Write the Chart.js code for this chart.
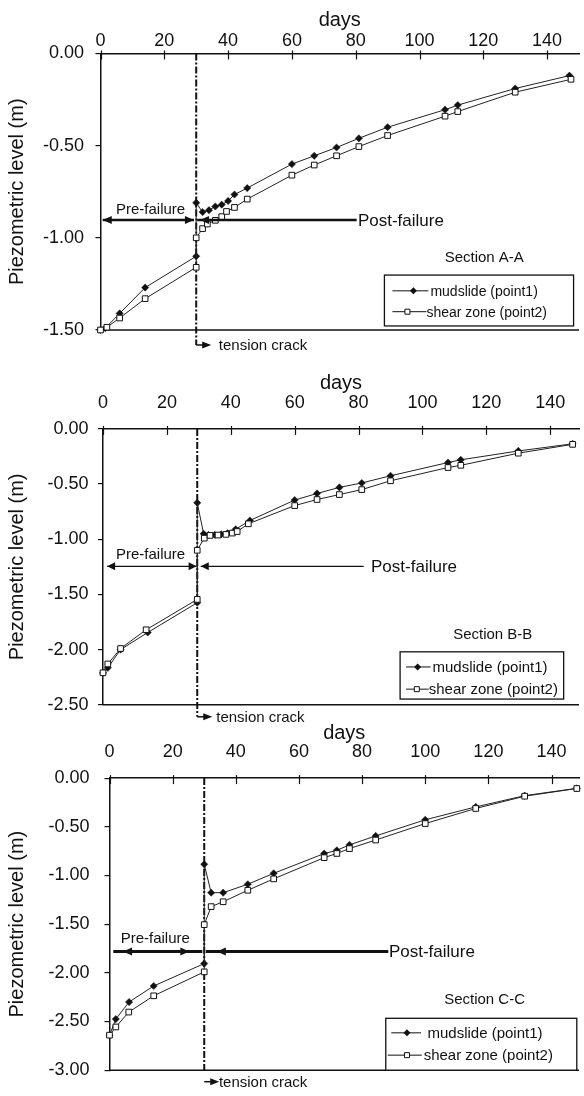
<!DOCTYPE html>
<html>
<head>
<meta charset="utf-8">
<script src="https://cdn.jsdelivr.net/npm/chart.js@4.4.1/dist/chart.umd.min.js"></script>
<style>
  html, body { margin: 0; padding: 0; background: #fff; }
  body { width: 584px; height: 1096px; position: relative; overflow: hidden; }
  .panel { position: absolute; left: 0; width: 584px; }
  .panel canvas { display: block; }
</style>
</head>
<body>
<div class="panel" style="top:0;height:360px"><canvas id="chartA"></canvas></div>
<div class="panel" style="top:350px;height:375px"><canvas id="chartB"></canvas></div>
<div class="panel" style="top:712px;height:384px"><canvas id="chartC"></canvas></div>
<script>
// axis ticks
const tickDays = [0, 20, 40, 60, 80, 100, 120, 140];
const levelTicksA = [0, -0.5, -1.0, -1.5];
const levelTicksB = [0, -0.5, -1.0, -1.5, -2.0, -2.5];
const levelTicksC = [0, -0.5, -1.0, -1.5, -2.0, -2.5, -3.0];

// Section A-A
const mudDaysA = [0, 1.5, 6, 14, 30, 30, 32, 34, 36, 38, 40, 42, 46, 60, 67, 74, 81, 90, 108, 112, 130, 147];
const mudLevelsA = [-1.50, -1.49, -1.41, -1.27, -1.10, -0.81, -0.86, -0.85, -0.83, -0.82, -0.80, -0.765, -0.73, -0.60, -0.555, -0.51, -0.46, -0.40, -0.305, -0.28, -0.19, -0.12];
const shearDaysA = [0, 2, 6, 14, 30, 30, 32, 33.5, 36, 38, 39.5, 42, 46, 60, 67, 74, 81, 90, 108, 112, 130, 147.5];
const shearLevelsA = [-1.50, -1.485, -1.435, -1.33, -1.16, -1.00, -0.95, -0.925, -0.905, -0.885, -0.857, -0.835, -0.79, -0.66, -0.605, -0.555, -0.505, -0.445, -0.34, -0.315, -0.21, -0.14];

// Section B-B
const mudDaysB = [0, 1.5, 5.5, 14, 29.5, 29.5, 31.5, 33, 35, 37, 39, 41.5, 46, 60, 67, 74, 81, 90, 108, 112, 130, 147];
const mudLevelsB = [-2.21, -2.165, -2.00, -1.845, -1.575, -0.67, -0.95, -0.96, -0.96, -0.955, -0.945, -0.91, -0.83, -0.645, -0.585, -0.53, -0.49, -0.425, -0.305, -0.28, -0.20, -0.135];
const shearDaysB = [0, 1.5, 5.5, 13.5, 29.5, 29.5, 31.7, 33.5, 36, 38.5, 40.5, 42, 45.5, 60, 67, 74, 81, 90, 108, 112, 130, 147];
const shearLevelsB = [-2.21, -2.13, -1.99, -1.82, -1.545, -1.10, -0.99, -0.965, -0.962, -0.956, -0.944, -0.93, -0.86, -0.695, -0.64, -0.595, -0.55, -0.47, -0.35, -0.33, -0.22, -0.14];

// Section C-C
const mudDaysC = [0, 2, 6.2, 14, 30, 30, 32.2, 36, 43.8, 52, 68, 72, 76, 84.3, 100, 116, 131.5, 148];
const mudLevelsC = [-2.64, -2.475, -2.30, -2.135, -1.905, -0.885, -1.177, -1.177, -1.09, -0.978, -0.775, -0.742, -0.686, -0.594, -0.428, -0.296, -0.18, -0.105];
const shearDaysC = [0, 2, 6.1, 14, 30, 30, 32.2, 36, 43.8, 52, 68, 72, 76, 84.3, 100, 116, 131.5, 148];
const shearLevelsC = [-2.64, -2.556, -2.403, -2.236, -1.99, -1.505, -1.32, -1.27, -1.152, -1.035, -0.817, -0.774, -0.724, -0.636, -0.467, -0.312, -0.186, -0.107];

const INK = '#111';
const FONT = "'Liberation Sans', Arial, Helvetica, sans-serif";
Chart.defaults.font.family = FONT;
Chart.defaults.color = INK;

// annotation layout per panel (arrows, labels, legend box), in data units
const decor = {
  chartA: {
    crackDay: 30, crackMode: 'elbow', crackDrop: 15, crackTextGap: 22.6,
    arrowLevel: -0.903, arrowWidth: 2.5, headLen: 9, headHalf: 4,
    arrowSpans: [[0.7, 29.3], [30.3, 80.3]], arrowHeads: [[0.7, -1], [29.3, 1], [31.2, -1]],
    texts: [
      { day: 15.7, level: -0.845, text: 'Pre-failure', size: 15, align: 'center' },
      { day: 80.7, level: -0.903, text: 'Post-failure', size: 17, align: 'left' },
      { day: 120.3, level: -1.103, text: 'Section A-A', size: 15, align: 'center' }
    ],
    legend: { days: [89, 148.3], levels: [-1.202, -1.478], size: 14, rows: [0.31, 0.72],
      mud: { line: [8, 44], marker: 29, text: 46 }, shear: { line: [8, 42], marker: 23, text: 42 } }
  },
  chartB: {
    crackDay: 29.5, crackMode: 'elbow', crackDrop: 12, crackTextGap: 19,
    arrowLevel: -1.245, arrowWidth: 1.2, headLen: 8, headHalf: 4,
    arrowSpans: [[1.3, 29.3], [30.6, 81.6]], arrowHeads: [[1.3, -1], [29.3, 1], [30.6, -1]],
    texts: [
      { day: 14.9, level: -1.132, text: 'Pre-failure', size: 15, align: 'center' },
      { day: 83.9, level: -1.245, text: 'Post-failure', size: 17, align: 'left' },
      { day: 122, level: -1.858, text: 'Section B-B', size: 15, align: 'center' }
    ],
    legend: { days: [93, 144.2], levels: [-2.02, -2.448], size: 15, rows: [0.32, 0.79],
      mud: { line: [6, 30.5], marker: 17.5, text: 32.4 }, shear: { line: [6, 28.6], marker: 16.7, text: 28.6 } }
  },
  chartC: {
    crackDay: 30, crackMode: 'arrow', crackDrop: 11.5, crackTextGap: 14.7,
    arrowLevel: -1.78, arrowWidth: 3, headLen: 9, headHalf: 4,
    arrowSpans: [[1.2, 29.4], [30.5, 88.3]], arrowHeads: [[4.3, -1], [25.3, 1], [34, -1]],
    texts: [
      { day: 14.5, level: -1.637, text: 'Pre-failure', size: 15, align: 'center' },
      { day: 88.5, level: -1.776, text: 'Post-failure', size: 17, align: 'left' },
      { day: 118.8, level: -2.268, text: 'Section C-C', size: 15, align: 'center' }
    ],
    legend: { days: [87.5, 148], levels: [-2.467, -3.0], size: 15, rows: [0.28, 0.71],
      mud: { line: [5.5, 35.3], marker: 21.2, text: 41.7 }, shear: { line: [2, 36], marker: 21.2, text: 37.9 } }
  }
};

function points(days, levels) {
  return days.map((d, i) => ({ x: d, y: levels[i] }));
}

function seg(ctx, x1, y1, x2, y2) {
  ctx.beginPath(); ctx.moveTo(x1, y1); ctx.lineTo(x2, y2); ctx.stroke();
}

function head(ctx, px, py, dir, len, half) {
  ctx.beginPath();
  ctx.moveTo(px, py);
  ctx.lineTo(px - dir * len, py - half);
  ctx.lineTo(px - dir * len, py + half);
  ctx.closePath();
  ctx.fill();
}

function marker(ctx, kind, px, py) {
  ctx.beginPath();
  if (kind === 'diamond') {
    ctx.moveTo(px - 3.5, py); ctx.lineTo(px, py - 3.5); ctx.lineTo(px + 3.5, py); ctx.lineTo(px, py + 3.5);
    ctx.closePath(); ctx.fill();
  } else {
    ctx.rect(px - 2.5, py - 2.5, 5, 5);
    ctx.fillStyle = '#fff'; ctx.fill();
    ctx.lineWidth = 1; ctx.stroke();
    ctx.fillStyle = INK;
  }
}

const sectionDecor = {
  id: 'sectionDecor',
  beforeDatasetsDraw(chart) {
    const o = decor[chart.canvas.id];
    const { ctx, chartArea: a, scales: { x } } = chart;
    ctx.save();
    ctx.strokeStyle = INK;
    ctx.lineWidth = 1.5;
    seg(ctx, a.left, a.bottom, a.right, a.bottom);
    // tick marks crossing the top axis
    ctx.lineWidth = 1.2;
    tickDays.forEach(d => {
      const px = Math.round(x.getPixelForValue(d)) + 0.5;
      seg(ctx, px, a.top - 3, px, a.top + 6);
    });
    // tension crack line
    const cx = x.getPixelForValue(o.crackDay);
    ctx.lineWidth = 2;
    ctx.setLineDash([7, 2, 2, 2]);
    const yEnd = o.crackMode === 'elbow' ? a.bottom + o.crackDrop : a.bottom;
    seg(ctx, cx, a.top, cx, yEnd);
    ctx.restore();
  },
  afterDraw(chart) {
    const o = decor[chart.canvas.id];
    const { ctx, chartArea: a, scales: { x, y } } = chart;
    ctx.save();
    ctx.strokeStyle = INK;
    ctx.fillStyle = INK;

    // tension crack label
    const cx = x.getPixelForValue(o.crackDay);
    const ly = a.bottom + o.crackDrop;
    ctx.lineWidth = 1.5;
    seg(ctx, cx, ly, cx + 7, ly);
    head(ctx, cx + 15, ly, 1, 9, 3.5);
    ctx.font = '15px ' + FONT;
    ctx.textBaseline = 'middle';
    ctx.textAlign = 'left';
    ctx.fillText('tension crack', cx + o.crackTextGap, ly + 1);

    // pre/post failure arrows
    const ay = y.getPixelForValue(o.arrowLevel);
    ctx.lineWidth = o.arrowWidth;
    o.arrowSpans.forEach(([d1, d2]) => seg(ctx, x.getPixelForValue(d1), ay, x.getPixelForValue(d2), ay));
    o.arrowHeads.forEach(([d, dir]) => head(ctx, x.getPixelForValue(d), ay, dir, o.headLen, o.headHalf));

    // free texts
    o.texts.forEach(t => {
      ctx.font = t.size + 'px ' + FONT;
      ctx.textAlign = t.align;
      ctx.fillText(t.text, x.getPixelForValue(t.day), y.getPixelForValue(t.level) + 1);
    });

    // legend box
    const L = o.legend;
    const bx1 = x.getPixelForValue(L.days[0]), bx2 = x.getPixelForValue(L.days[1]);
    const by1 = y.getPixelForValue(L.levels[0]), by2 = y.getPixelForValue(L.levels[1]);
    ctx.fillStyle = '#fff';
    ctx.fillRect(bx1, by1, bx2 - bx1, by2 - by1);
    ctx.fillStyle = INK;
    ctx.lineWidth = 1.3;
    ctx.strokeRect(bx1, by1, bx2 - bx1, by2 - by1);
    ctx.font = L.size + 'px ' + FONT;
    ctx.textAlign = 'left';
    const rowsDef = [[L.mud, 'diamond', 'mudslide (point1)'], [L.shear, 'square', 'shear zone (point2)']];
    rowsDef.forEach(([r, kind, label], i) => {
      const ry = by1 + (by2 - by1) * L.rows[i];
      ctx.lineWidth = 1;
      seg(ctx, bx1 + r.line[0], ry, bx1 + r.line[1], ry);
      marker(ctx, kind, bx1 + r.marker, ry);
      ctx.fillText(label, bx1 + r.text, ry + 1);
    });
    ctx.restore();
  }
};

function makeSection(id, cfg) {
  return new Chart(document.getElementById(id), {
    type: 'scatter',
    data: {
      datasets: [
        {
          label: 'shear zone (point2)',
          data: points(cfg.shearDays, cfg.shearLevels),
          showLine: true, tension: 0, clip: false,
          borderColor: '#222', borderWidth: 1,
          pointStyle: 'rect', pointRadius: 4,
          pointBackgroundColor: '#fff', pointBorderColor: '#111', pointBorderWidth: 1
        },
        {
          label: 'mudslide (point1)',
          data: points(cfg.mudDays, cfg.mudLevels),
          showLine: true, tension: 0, clip: false,
          borderColor: '#222', borderWidth: 1,
          pointStyle: 'rectRot', pointRadius: 3.6,
          pointBackgroundColor: '#111', pointBorderColor: '#111', pointBorderWidth: 0.5
        }
      ]
    },
    options: {
      responsive: true,
      maintainAspectRatio: false,
      animation: false,
      events: [],
      layout: { padding: { left: 0, right: 0, top: 0, bottom: cfg.padBottom } },
      plugins: { legend: { display: false }, tooltip: { enabled: false } },
      scales: {
        x: {
          type: 'linear', position: 'top', min: 0, max: cfg.maxDay,
          afterBuildTicks: s => { s.ticks = tickDays.map(v => ({ value: v })); },
          afterFit: s => { s.height = cfg.plotTop; },
          ticks: { font: { size: 18 }, color: INK, padding: cfg.xTickPad, maxRotation: 0, autoSkip: false },
          grid: { display: true, drawOnChartArea: false, drawTicks: false },
          border: { display: true, color: INK, width: 1.5 },
          title: { display: true, text: 'days', font: { size: 20 }, color: INK, padding: { top: cfg.xTitlePad, bottom: 0 } }
        },
        y: {
          type: 'linear', min: cfg.levelTicks[cfg.levelTicks.length - 1], max: 0,
          afterBuildTicks: s => { s.ticks = cfg.levelTicks.map(v => ({ value: v })); },
          afterFit: s => { s.width = cfg.plotLeft; },
          ticks: { font: { size: 18 }, color: INK, padding: cfg.yTickPad, autoSkip: false, callback: v => v.toFixed(2) },
          grid: { display: true, drawOnChartArea: false, drawTicks: true, tickLength: 5, color: INK, lineWidth: 1.2 },
          border: { display: true, color: INK, width: 1.5 },
          title: { display: true, text: 'Piezometric level (m)', font: { size: 20 }, color: INK, padding: { top: 5, bottom: 0 } }
        }
      }
    },
    plugins: [sectionDecor]
  });
}

makeSection('chartA', {
  mudDays: mudDaysA, mudLevels: mudLevelsA, shearDays: shearDaysA, shearLevels: shearLevelsA,
  levelTicks: levelTicksA, maxDay: 150,
  plotTop: 53.5, plotLeft: 100.5, padBottom: 30,
  xTickPad: 1.5, xTitlePad: 8, yTickPad: 11.5
});
makeSection('chartB', {
  mudDays: mudDaysB, mudLevels: mudLevelsB, shearDays: shearDaysB, shearLevels: shearLevelsB,
  levelTicks: levelTicksB, maxDay: 149,
  plotTop: 78.9, plotLeft: 103, padBottom: 20.1,
  xTickPad: 14.7, xTitlePad: 21.3, yTickPad: 9.4
});
makeSection('chartC', {
  mudDays: mudDaysC, mudLevels: mudLevelsC, shearDays: shearDaysC, shearLevels: shearLevelsC,
  levelTicks: levelTicksC, maxDay: 148.7,
  plotTop: 66.1, plotLeft: 109.5, padBottom: 17.3,
  xTickPad: 15, xTitlePad: 9.3, yTickPad: 15
});
</script>
</body>
</html>
